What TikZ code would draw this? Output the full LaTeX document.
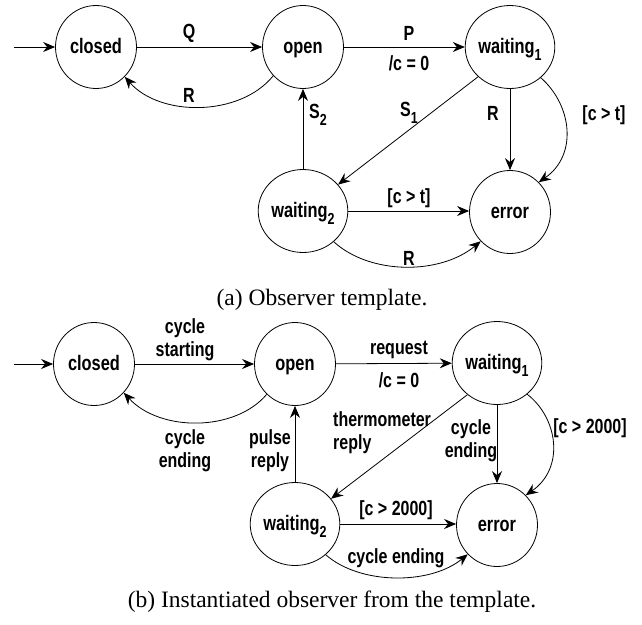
\documentclass[tikz,border=0pt]{standalone}
\usepackage{fontspec}
\setmainfont{Liberation Serif}
\newfontfamily\statefont{Liberation Sans}[FakeStretch=0.78]
\usetikzlibrary{arrows.meta,shapes.geometric}
\newlength{\du}
\setlength{\du}{1pt}
\newcommand{\stsub}[1]{\raisebox{-0.33em}{\fontsize{16}{16}\selectfont #1}}
\tikzset{
  state/.style={draw, ellipse, minimum width=81\du, minimum height=83\du, inner sep=0pt,
    line width=0.8pt, text height=14pt, text depth=1pt,
    font=\statefont\fontsize{21}{23}\selectfont\bfseries},
  trans/.style={draw, line width=0.8pt, -{Stealth[length=12pt,width=10pt,inset=4pt]}},
  lbl/.style={font=\statefont\fontsize{20.5}{23}\selectfont\bfseries, inner sep=1pt, align=center},
  capt/.style={font=\fontsize{23.5}{26}\selectfont, inner sep=0pt}
}
\begin{document}
\begin{tikzpicture}
\pgftransformxscale{1.000000}
\pgftransformyscale{-1.000000}
\useasboundingbox (0\du,0\du) rectangle (642\du,624\du);
% (a) template
\node[state] (closedT) at (96\du,47\du){closed};
\node[state] (openT) at (303\du,47\du){open};
\node[state] (waitOneT) at (510\du,47\du){waiting\stsub{1}};
\node[state] (waitTwoT) at (303\du,211\du){waiting\stsub{2}};
\node[state] (errorT) at (510\du,212\du){error};
\coordinate (initT) at (14\du,47\du);
\draw[trans] (initT) -- (closedT);
\draw[trans] (closedT) -- (openT);
\draw[trans] (openT) -- (waitOneT);
\draw[trans] (openT.224) .. controls (240\du,117\du) and (160\du,117\du) .. (closedT.-46);
\draw[trans] (waitTwoT) -- (openT);
\draw[trans] (waitOneT.223) -- (waitTwoT.37);
\draw[trans] (waitOneT) -- (errorT);
\draw[trans] (waitOneT.-45) .. controls (572\du,105\du) and (578\du,155\du) .. (errorT.46);
\draw[trans] (waitTwoT.east) -- (errorT.west |- waitTwoT.east);
\draw[trans] (waitTwoT.-45) .. controls (370\du,275\du) and (440\du,275\du) .. (errorT.225);
\node[lbl] (qT) at (189\du,33\du){Q};
\node[lbl] (pT) at (409\du,33\du){P};
\node[lbl] (resetT) at (409\du,63\du){/c = 0};
\node[lbl] (rOneT) at (189\du,95\du){R};
\node[lbl] (sTwoT) at (318\du,115\du){S\stsub{2}};
\node[lbl] (sOneT) at (409\du,113\du){S\stsub{1}};
\node[lbl] (rTwoT) at (493\du,113\du){R};
\node[lbl] (tOneT) at (604\du,115\du){[c > t]};
\node[lbl] (tTwoT) at (409\du,198\du){[c > t]};
\node[lbl] (rThreeT) at (409\du,258\du){R};
\node[capt] (captT) at (322\du,300\du){(a) Observer template.};
% (b) instantiated
\node[state] (closedI) at (94\du,364\du){closed};
\node[state] (openI) at (295\du,364\du){open};
\node[state] (waitOneI) at (497\du,363\du){waiting\stsub{1}};
\node[state] (waitTwoI) at (295\du,524\du){waiting\stsub{2}};
\node[state] (errorI) at (497\du,525\du){error};
\coordinate (initI) at (14\du,364\du);
\draw[trans] (initI) -- (closedI);
\draw[trans] (closedI) -- (openI);
\draw[trans] (openI) -- (waitOneI);
\draw[trans] (openI.227) .. controls (235\du,432\du) and (160\du,432\du) .. (closedI.-44);
\draw[trans] (waitTwoI) -- (openI);
\draw[trans] (waitOneI.227) -- (waitTwoI.35);
\draw[trans] (waitOneI) -- (errorI);
\draw[trans] (waitOneI.-46) .. controls (558\du,418\du) and (565\du,468\du) .. (errorI.46);
\draw[trans] (waitTwoI.east) -- (errorI.west |- waitTwoI.east);
\draw[trans] (waitTwoI.-45) .. controls (360\du,585\du) and (430\du,585\du) .. (errorI.225);
\node[lbl] (startI) at (185\du,340\du){cycle\\starting};
\node[lbl] (reqI) at (399\du,350\du){request};
\node[lbl] (resetI) at (399\du,380\du){/c = 0};
\node[lbl] (endOneI) at (185\du,451\du){cycle\\ending};
\node[lbl] (pulseI) at (270\du,451\du){pulse\\reply};
\node[lbl, align=left, anchor=west] (thermoI) at (332\du,433\du){thermometer\\reply};
\node[lbl] (endTwoI) at (471\du,441\du){cycle\\ending};
\node[lbl] (tOneI) at (590\du,428\du){[c > 2000]};
\node[lbl] (tTwoI) at (396\du,510\du){[c > 2000]};
\node[lbl] (endThreeI) at (396\du,558\du){cycle ending};
\node[capt] (captI) at (332\du,602\du){(b) Instantiated observer from the template.};
\end{tikzpicture}
\end{document}
